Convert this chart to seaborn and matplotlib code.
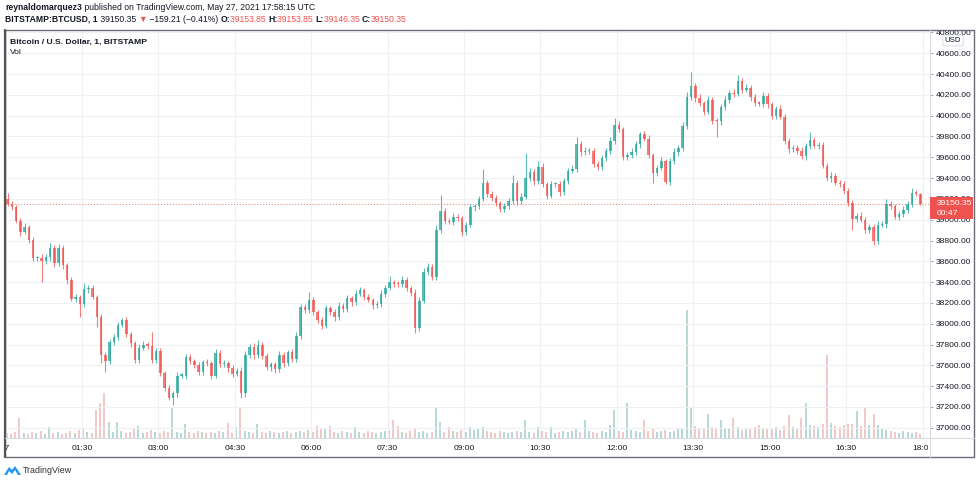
import numpy as np
import pandas as pd
import matplotlib
matplotlib.use("Agg")
import matplotlib.pyplot as plt
import seaborn as sns
from matplotlib.patches import Rectangle, Polygon
from matplotlib.lines import Line2D
from matplotlib.ticker import FuncFormatter
from matplotlib.transforms import Bbox, TransformedBbox

# 5-minute candles (00:00 -> 18:00, May 27 2021)
first_open = 39200.0
closes = [
    39150, 39120, 38990, 38880, 38930, 38805, 38630, 38630, 38600, 38640, 38730, 38580,
    38730, 38560, 38420, 38240, 38260, 38190, 38330, 38345, 38260, 38065, 37700, 37640,
    37820, 37875, 37990, 38035, 37900, 37815, 37650, 37770, 37800, 37790, 37650, 37740,
    37530, 37385, 37290, 37330, 37500, 37500, 37680, 37640, 37600, 37540, 37630, 37620,
    37500, 37720, 37610, 37620, 37570, 37520, 37550, 37330, 37700, 37780, 37700, 37800,
    37690, 37580, 37610, 37560, 37700, 37620, 37725, 37660, 37880, 38160, 38130, 38230,
    38110, 38040, 37980, 38150, 38110, 38065, 38170, 38140, 38250, 38210, 38290, 38320,
    38255, 38230, 38180, 38190, 38290, 38345, 38400, 38385, 38380, 38420, 38345, 38300,
    37960, 38220, 38500, 38550, 38450, 38900, 39080, 38990, 38980, 39025, 39015, 38880,
    38950, 39120, 39130, 39200, 39350, 39250, 39210, 39160, 39100, 39130, 39180, 39350,
    39180, 39220, 39400, 39460, 39370, 39510, 39340, 39230, 39340, 39340, 39265, 39370,
    39470, 39490, 39730, 39650, 39660, 39660, 39540, 39505, 39590, 39660, 39755, 39910,
    39870, 39605, 39620, 39650, 39725, 39820, 39780, 39620, 39450, 39500, 39560, 39360,
    39560, 39650, 39690, 39900, 40180, 40285, 40170, 40120, 40040, 40150, 39950, 39945,
    40080, 40150, 40220, 40210, 40330, 40250, 40270, 40180, 40120, 40115, 40190, 40110,
    40000, 40065, 39990, 39760, 39675, 39690, 39660, 39610, 39710, 39770, 39710, 39720,
    39520, 39400, 39420, 39355, 39340, 39280, 39160, 39010, 39035, 39000, 38905, 38930,
    38800, 38950, 38955, 39150, 39130, 39030, 39050, 39095, 39150, 39255, 39250, 39150.35,
]
# wick lengths above / below the candle body, in USD
wick_up = [
    57, 25, 20, 30, 35, 20, 30, 25, 40, 30, 45, 25,
    35, 30, 20, 25, 30, 20, 60, 30, 25, 20, 30, 25,
    35, 30, 25, 20, 30, 25, 20, 35, 30, 25, 130, 30,
    25, 20, 30, 25, 35, 30, 25, 30, 20, 35, 25, 30,
    20, 35, 25, 30, 20, 30, 25, 30, 35, 25, 30, 40,
    25, 30, 20, 25, 35, 30, 25, 30, 40, 30, 25, 75,
    30, 25, 20, 30, 25, 30, 35, 25, 30, 20, 35, 30,
    25, 30, 20, 25, 35, 30, 60, 25, 30, 35, 25, 20,
    30, 40, 35, 30, 25, 50, 160, 30, 25, 35, 30, 25,
    30, 35, 25, 30, 140, 30, 25, 30, 20, 35, 30, 80,
    30, 35, 240, 40, 30, 50, 35, 25, 30, 25, 30, 35,
    30, 35, 65, 30, 35, 25, 30, 20, 35, 30, 40, 70,
    35, 25, 30, 35, 30, 25, 35, 30, 25, 30, 40, 25,
    30, 35, 25, 40, 50, 135, 30, 35, 25, 40, 30, 25,
    30, 35, 25, 40, 60, 30, 35, 25, 30, 25, 35, 30,
    25, 30, 35, 25, 30, 25, 30, 35, 30, 75, 25, 30,
    30, 25, 35, 30, 25, 30, 20, 25, 30, 35, 25, 30,
    25, 35, 30, 45, 30, 25, 30, 35, 30, 50, 30, 5,
]
wick_dn = [
    20, 30, 25, 35, 20, 30, 25, 30, 200, 25, 35, 30,
    25, 30, 35, 25, 30, 125, 25, 30, 25, 95, 80, 105,
    30, 25, 35, 20, 30, 35, 25, 30, 25, 35, 30, 25,
    30, 35, 25, 70, 30, 25, 35, 30, 25, 30, 35, 25,
    35, 25, 30, 25, 35, 30, 25, 40, 30, 25, 35, 30,
    30, 25, 35, 30, 25, 35, 30, 25, 30, 25, 30, 25,
    25, 30, 35, 25, 30, 35, 25, 30, 25, 35, 30, 25,
    30, 25, 35, 30, 25, 30, 25, 35, 30, 25, 30, 35,
    50, 30, 25, 35, 30, 25, 30, 35, 25, 30, 25, 40,
    30, 25, 35, 30, 25, 30, 35, 25, 30, 25, 30, 25,
    35, 30, 25, 30, 35, 25, 30, 35, 25, 30, 35, 25,
    30, 25, 30, 35, 25, 30, 35, 30, 25, 30, 25, 30,
    25, 35, 30, 25, 30, 35, 25, 30, 100, 30, 25, 20,
    30, 25, 35, 30, 25, 30, 35, 25, 30, 25, 30, 150,
    30, 25, 30, 35, 25, 30, 25, 35, 30, 25, 30, 35,
    30, 35, 25, 30, 35, 25, 30, 25, 35, 30, 25, 30,
    25, 30, 35, 25, 30, 35, 25, 110, 30, 25, 35, 30,
    40, 30, 25, 35, 30, 25, 30, 25, 35, 30, 25, 5,
]
volumes = [
    5, 4, 6, 20, 5, 4, 6, 5, 7, 4, 11, 5,
    6, 4, 5, 7, 5, 8, 9, 6, 5, 28, 35, 45,
    16, 6, 16, 7, 5, 6, 9, 12, 5, 6, 8, 6,
    5, 7, 6, 30, 6, 5, 14, 6, 5, 7, 6, 5,
    6, 5, 7, 6, 15, 5, 11, 30, 7, 6, 5, 14,
    6, 5, 7, 6, 5, 6, 7, 5, 6, 7, 6, 8,
    6, 12, 10, 9, 12, 6, 5, 7, 6, 5, 11, 6,
    5, 7, 6, 5, 6, 7, 8, 18, 12, 6, 5, 7,
    9, 6, 7, 5, 6, 31, 16, 6, 11, 7, 6, 8,
    6, 11, 8, 10, 11, 7, 6, 5, 7, 6, 5, 6,
    7, 6, 18, 6, 5, 11, 7, 6, 11, 5, 6, 7,
    6, 7, 9, 6, 18, 7, 6, 5, 7, 6, 13, 28,
    7, 6, 35, 8, 7, 6, 18, 7, 9, 6, 7, 8,
    6, 7, 9, 10, 128, 31, 12, 9, 10, 24, 11, 9,
    18, 10, 9, 20, 11, 8, 9, 10, 11, 13, 9, 10,
    9, 11, 8, 12, 23, 11, 9, 20, 35, 13, 12, 11,
    14, 83, 15, 12, 11, 13, 14, 14, 27, 12, 31, 13,
    24, 13, 9, 8, 7, 6, 5, 7, 6, 5, 6, 4,
]
price_ticks = list(range(37000, 40801, 200))
time_ticks = list(range(0, 1081, 90))
time_labels = ["27", "01:30", "03:00", "04:30", "06:00", "07:30", "09:00",
               "10:30", "12:00", "13:30", "15:00", "16:30", "18:00"]

UP = "#26a69a"
DOWN = "#ef5350"
TXT = "#131722"

df = pd.DataFrame({"close": closes, "wick_up": wick_up, "wick_dn": wick_dn, "volume": volumes})
df["open"] = [first_open] + closes[:-1]
df["minute"] = np.arange(len(df)) * 5 + 2.5
df["top"] = df[["open", "close"]].max(axis=1)
df["bot"] = df[["open", "close"]].min(axis=1)
df["high"] = df["top"] + df["wick_up"]
df["low"] = df["bot"] - df["wick_dn"]
df["dir"] = np.where(df["close"] >= df["open"], "up", "down")
colors = [UP if d == "up" else DOWN for d in df["dir"]]

sns.set_theme(style="white")
plt.rcParams["font.family"] = ["Liberation Sans", "DejaVu Sans"]

W, H = 980, 483
fig = plt.figure(figsize=(9.8, 4.83), dpi=100)
fig.patch.set_facecolor("white")


def fx(px):
    return px / W


def fy(py):
    return 1 - py / H


L, R, T, B = 5.5, 930, 30, 438
rect = [fx(L), fy(B), fx(R) - fx(L), fy(T) - fy(B)]
ax_vol = fig.add_axes(rect)
ax = fig.add_axes(rect)
ax.patch.set_alpha(0)

# volume (1 unit ~ 1 px of height)
sns.barplot(data=df, x="minute", y="volume", hue="dir", palette={"up": UP, "down": DOWN},
            native_scale=True, dodge=False, width=0.45, errorbar=None, legend=False,
            alpha=0.35, linewidth=0, ax=ax_vol)
ax_vol.set_ylim(0, B - T)
ax_vol.set_xlim(1.2, 1088.8)
ax_vol.axis("off")

# candles
ax.vlines(df["minute"], df["low"], df["high"], colors=colors, lw=0.8, alpha=0.75, zorder=3)
body = np.maximum(df["top"] - df["bot"], 12)
ax.bar(df["minute"], body, bottom=df["bot"], width=2.9, color=colors, lw=0, alpha=0.75, zorder=3)

ax.axhline(closes[-1], color=DOWN, lw=0.7, ls=(0, (1, 2)), alpha=0.8, zorder=2)

ax.set_xlim(1.2, 1088.8)
ax.set_ylim(36901, 40824)
ax.set_xticks(time_ticks)
ax.set_xticklabels(time_labels)
ax.set_yticks(price_ticks)
ax.yaxis.set_major_formatter(FuncFormatter(lambda v, p: f"{v:.2f}"))
ax.yaxis.tick_right()
ax.grid(True, color="#eef0f4", lw=0.8, zorder=0)
ax.set_axisbelow(True)
for s in ax.spines.values():
    s.set_visible(False)
ax.tick_params(axis="y", right=True, length=2.2, width=0.6, color="#9598a1", pad=2.2,
               labelsize=6.1, labelcolor=TXT)
ax.tick_params(axis="x", bottom=False, length=0, pad=5, labelsize=6.0, labelcolor=TXT)

clip = TransformedBbox(Bbox([[fx(3.5), 0], [fx(928), 1]]), fig.transFigure)
for lab in ax.get_xticklabels():
    lab.set_clip_box(clip)
    lab.set_clip_on(True)

# frame
frame_kw = dict(color="#6a6d78", lw=1.0, transform=fig.transFigure)
fig.add_artist(Line2D([fx(5), fx(974), fx(974), fx(5), fx(5)],
                      [fy(30), fy(30), fy(457), fy(457), fy(30)], **frame_kw))
fig.add_artist(Line2D([fx(5), fx(5)], [fy(30), fy(457)], color="#555555", lw=1.6,
                      transform=fig.transFigure))
fig.add_artist(Line2D([fx(930), fx(930)], [fy(30), fy(457)], color="#d9dbe0", lw=0.8,
                      transform=fig.transFigure))
fig.add_artist(Line2D([fx(5), fx(974)], [fy(438), fy(438)], color="#d9dbe0", lw=0.8,
                      transform=fig.transFigure))

# last price tag (drawn over the axis labels it covers, as in the original)
fig.add_artist(Rectangle((fx(930), fy(219)), fx(43), fy(197) - fy(219), transform=fig.transFigure,
                         facecolor=DOWN, edgecolor="none", zorder=10))
fig.text(fx(937), fy(203.5), f"{closes[-1]:.2f}", color="white", fontsize=6.1, va="center",
         ha="left", zorder=11)
fig.text(fx(937), fy(213.5), "00:47", color="white", fontsize=6.1, va="center", ha="left", zorder=11)
fig.text(fx(953), fy(40.5), "USD", color=TXT, fontsize=5.6, va="center", ha="center", zorder=11,
         bbox=dict(boxstyle="round,pad=0.25", fc="white", ec="#d1d4dc", lw=0.6))

# header
renderer = fig.canvas.get_renderer()


def write(parts, x0, y, size):
    x = x0
    for text, color, weight in parts:
        t = fig.text(fx(x), fy(y), text, color=color, fontsize=size, fontweight=weight,
                     va="center", ha="left")
        bb = t.get_window_extent(renderer)
        x = bb.x1


write([("reynaldomarquez3", TXT, "bold"),
       (" published on TradingView.com, May 27, 2021 17:58:15 UTC", TXT, "normal")], 5, 8, 6.2)
write([("BITSTAMP:BTCUSD, 1", TXT, "bold"),
       (" 39150.35 ", TXT, "normal"), ("▼", DOWN, "normal"),
       (" \u2212159.21 (\u22120.41%) ", TXT, "normal"),
       ("O:", TXT, "bold"), ("39153.85 ", DOWN, "normal"),
       ("H:", TXT, "bold"), ("39153.85 ", DOWN, "normal"),
       ("L:", TXT, "bold"), ("39146.35 ", DOWN, "normal"),
       ("C:", TXT, "bold"), ("39150.35", DOWN, "normal")], 5, 19, 6.2)

fig.text(fx(10), fy(42), "Bitcoin / U.S. Dollar, 1, BITSTAMP", color=TXT, fontsize=6.1,
         fontweight="bold", va="center")
fig.text(fx(10), fy(53), "Vol", color=TXT, fontsize=6.1, va="center")

# TradingView logo
logo = [(4, 475), (9, 467), (12, 470), (15, 466), (21, 475), (18, 475), (15, 470), (12, 474),
        (9, 471), (7, 475)]
fig.add_artist(Polygon([(fx(a), fy(b)) for a, b in logo], closed=True, transform=fig.transFigure,
                       facecolor="#2196f3", edgecolor="none"))
fig.text(fx(23), fy(470.5), "TradingView", color="#333333", fontsize=6.4, va="center")

fig.savefig("out.png", dpi=100, facecolor="white")
